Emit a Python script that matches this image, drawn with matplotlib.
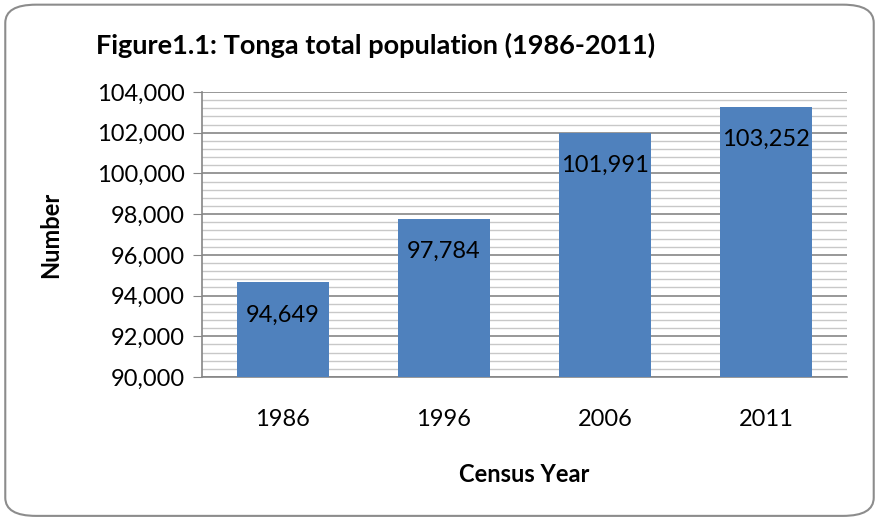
import matplotlib.pyplot as plt
from matplotlib.patches import FancyBboxPatch
from matplotlib.ticker import MultipleLocator, FuncFormatter

# data
years = ["1986", "1996", "2006", "2011"]
population = [94649, 97784, 101991, 103252]

plt.rcParams['font.family'] = ['Lato', 'DejaVu Sans']

fig = plt.figure(figsize=(8.79, 5.19), dpi=100)

# rounded chart frame
frame = FancyBboxPatch((0.006, 0.006), 0.988, 0.985, boxstyle="round,pad=0,rounding_size=0.035",
                       transform=fig.transFigure, facecolor='none', edgecolor='#8c8c8c',
                       linewidth=1.5, zorder=-1)
fig.patches.append(frame)

ax = fig.add_axes([0.2298, 0.2736, 0.7338, 0.5491])
ax.set_facecolor('none')

x = range(len(years))
bars = ax.bar(x, population, width=0.57, color='#4f81bd', zorder=3)

ax.set_ylim(90000, 104000)
ax.set_xlim(-0.5, len(years) - 0.5)
ax.yaxis.set_major_locator(MultipleLocator(2000))
ax.yaxis.set_minor_locator(MultipleLocator(400))
ax.yaxis.set_major_formatter(FuncFormatter(lambda v, p: f"{int(v):,}"))
ax.grid(axis='y', which='major', color='#868686', linewidth=1.2, zorder=1)
ax.grid(axis='y', which='minor', color='#c8c8c8', linewidth=1.0, zorder=1)

ax.set_xticks(list(x))
ax.set_xticklabels(years)
ax.tick_params(axis='x', length=0, pad=23, labelsize=17)
ax.tick_params(axis='y', which='major', length=6.5, color='#868686', labelsize=17, pad=6)
ax.tick_params(axis='y', which='minor', length=0)

for side in ['top', 'right']:
    ax.spines[side].set_visible(False)
ax.spines['left'].set_color('#868686')
ax.spines['bottom'].set_color('#868686')
ax.spines['left'].set_linewidth(1.2)
ax.spines['bottom'].set_linewidth(1.2)

# value labels inside the bar tops
for b, v in zip(bars, population):
    ax.text(b.get_x() + b.get_width() / 2, v - 1600, f"{v:,}", ha='center', va='center',
            fontsize=17, color='black', zorder=4)

ax.set_ylabel("Number", fontsize=17, fontweight='bold', labelpad=25)
ax.set_xlabel("Census Year", fontsize=17, fontweight='bold', labelpad=24)
fig.text(0.4278, 0.912, "Figure1.1: Tonga total population (1986-2011)", ha='center', va='center',
         fontsize=19.5, fontweight='bold')

fig.savefig("out.png", dpi=100)
